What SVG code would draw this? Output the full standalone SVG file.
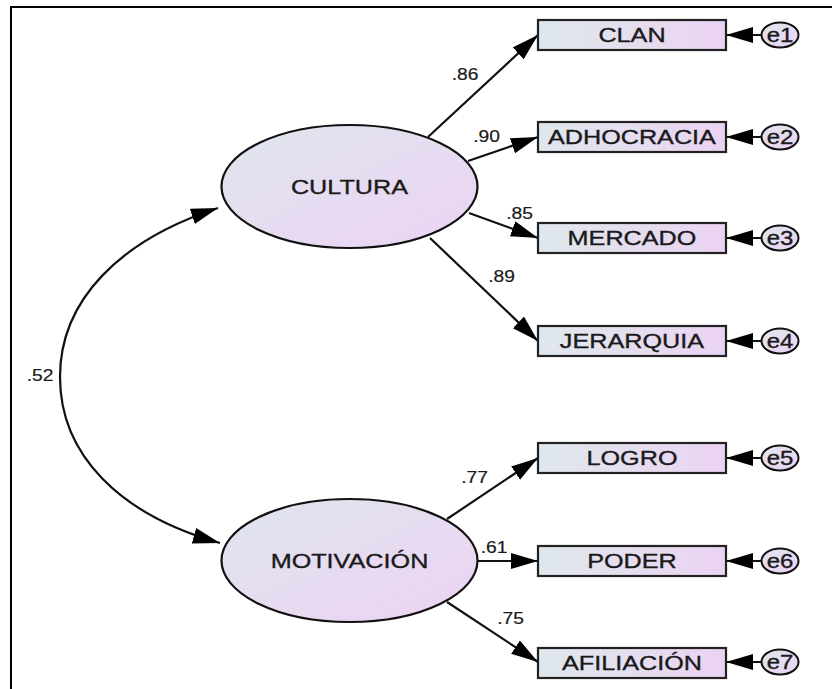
<svg xmlns="http://www.w3.org/2000/svg" width="835" height="689" viewBox="0 0 835 689">
  <style>
    text { font-family: "Liberation Sans", Arial, sans-serif; fill: #1a1a1a; stroke: #1a1a1a; stroke-width: 0.35;
           text-anchor: middle; transform-box: fill-box; transform-origin: center; transform: scaleX(1.2); }
    .name { font-size: 21px; }
    .coef { font-size: 16px; stroke-width: 0.2; }
    .err  { font-size: 20px; }
    .obs  { fill: url(#boxFill); stroke: #222; stroke-width: 2.2; }
    .lat  { fill: url(#latFill); stroke: #111; stroke-width: 2.2; }
    .res  { fill: url(#latFill); stroke: #111; stroke-width: 2; }
    .path { fill: none; stroke: #111; stroke-width: 2.2; }
    .frame { fill: none; stroke: #000; stroke-width: 2; }
  </style>
  <defs>
    <linearGradient id="boxFill" x1="0" y1="0" x2="1" y2="0">
      <stop offset="0" stop-color="#dfe8ec"/>
      <stop offset="1" stop-color="#ebd3f2"/>
    </linearGradient>
    <linearGradient id="latFill" x1="0" y1="0" x2="1" y2="1">
      <stop offset="0" stop-color="#dfe6ee"/>
      <stop offset="1" stop-color="#edd2f3"/>
    </linearGradient>
    <marker id="head" markerUnits="userSpaceOnUse" markerWidth="30" markerHeight="18" refX="27" refY="8" orient="auto-start-reverse">
      <path d="M0,0 L27,8 L0,16 z" fill="#000"/>
    </marker>
  </defs>

  <!-- frame -->
  <path class="frame" d="M11,689 L11,7 L832,7"/>

  <!-- connectors -->
  <g id="connectors">
    <path class="path" d="M218,208 C120,240 60,300 60,377 C60,455 120,515 220,543" marker-start="url(#head)" marker-end="url(#head)"/>
    <line class="path" x1="428" y1="137" x2="538" y2="35" marker-end="url(#head)"/>
    <line class="path" x1="468" y1="161" x2="538" y2="137" marker-end="url(#head)"/>
    <line class="path" x1="469" y1="213" x2="538" y2="238" marker-end="url(#head)"/>
    <line class="path" x1="430" y1="238" x2="538" y2="341" marker-end="url(#head)"/>
    <line class="path" x1="447" y1="519" x2="538" y2="458" marker-end="url(#head)"/>
    <line class="path" x1="478" y1="561" x2="538" y2="561" marker-end="url(#head)"/>
    <line class="path" x1="447" y1="602" x2="538" y2="662" marker-end="url(#head)"/>
    <line class="path" x1="762" y1="35" x2="726" y2="35" marker-end="url(#head)"/>
    <line class="path" x1="762" y1="137" x2="726" y2="137" marker-end="url(#head)"/>
    <line class="path" x1="762" y1="238" x2="726" y2="238" marker-end="url(#head)"/>
    <line class="path" x1="762" y1="341" x2="726" y2="341" marker-end="url(#head)"/>
    <line class="path" x1="762" y1="458" x2="726" y2="458" marker-end="url(#head)"/>
    <line class="path" x1="762" y1="561" x2="726" y2="561" marker-end="url(#head)"/>
    <line class="path" x1="762" y1="662" x2="726" y2="662" marker-end="url(#head)"/>
    <text class="coef" x="465" y="80">.86</text>
    <text class="coef" x="486.5" y="142">.90</text>
    <text class="coef" x="519.5" y="219">.85</text>
    <text class="coef" x="501.5" y="282">.89</text>
    <text class="coef" x="40" y="381">.52</text>
    <text class="coef" x="474.5" y="483">.77</text>
    <text class="coef" x="494" y="553">.61</text>
    <text class="coef" x="510.5" y="624">.75</text>
  </g>

  <!-- latent variables -->
  <g id="cultura">
    <ellipse class="lat" cx="349.5" cy="186.5" rx="128" ry="61.5"/>
    <text class="name" x="349.5" y="194">CULTURA</text>
  </g>
  <g id="motivacion">
    <ellipse class="lat" cx="349.5" cy="560.5" rx="128" ry="61.5"/>
    <text class="name" x="349.5" y="568">MOTIVACIÓN</text>
  </g>

  <!-- observed variables -->
  <g id="clan">
    <rect class="obs" x="538" y="20" width="188" height="30"/>
    <text class="name" x="632" y="42.5">CLAN</text>
  </g>
  <g id="adhocracia">
    <rect class="obs" x="538" y="122" width="188" height="30"/>
    <text class="name" x="632" y="144.5">ADHOCRACIA</text>
  </g>
  <g id="mercado">
    <rect class="obs" x="538" y="223" width="188" height="30"/>
    <text class="name" x="632" y="245.5">MERCADO</text>
  </g>
  <g id="jerarquia">
    <rect class="obs" x="538" y="326" width="188" height="30"/>
    <text class="name" x="632" y="348.5">JERARQUIA</text>
  </g>
  <g id="logro">
    <rect class="obs" x="538" y="443" width="188" height="30"/>
    <text class="name" x="632" y="465.5">LOGRO</text>
  </g>
  <g id="poder">
    <rect class="obs" x="538" y="546" width="188" height="30"/>
    <text class="name" x="632" y="568.5">PODER</text>
  </g>
  <g id="afiliacion">
    <rect class="obs" x="538" y="648" width="188" height="30"/>
    <text class="name" x="632" y="670.5">AFILIACIÓN</text>
  </g>

  <!-- residual terms -->
  <g id="e1"><ellipse class="res" cx="780" cy="35" rx="18.5" ry="12.5"/><text class="err" x="780" y="42">e1</text></g>
  <g id="e2"><ellipse class="res" cx="780" cy="137" rx="18.5" ry="12.5"/><text class="err" x="780" y="144">e2</text></g>
  <g id="e3"><ellipse class="res" cx="780" cy="238" rx="18.5" ry="12.5"/><text class="err" x="780" y="245">e3</text></g>
  <g id="e4"><ellipse class="res" cx="780" cy="341" rx="18.5" ry="12.5"/><text class="err" x="780" y="348">e4</text></g>
  <g id="e5"><ellipse class="res" cx="780" cy="458" rx="18.5" ry="12.5"/><text class="err" x="780" y="465">e5</text></g>
  <g id="e6"><ellipse class="res" cx="780" cy="561" rx="18.5" ry="12.5"/><text class="err" x="780" y="568">e6</text></g>
  <g id="e7"><ellipse class="res" cx="780" cy="662" rx="18.5" ry="12.5"/><text class="err" x="780" y="669">e7</text></g>
</svg>
